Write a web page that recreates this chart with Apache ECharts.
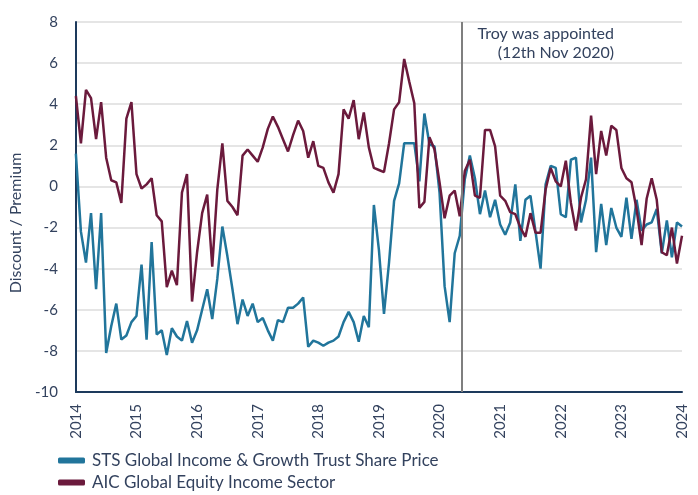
<!DOCTYPE html>
<html>
<head>
<meta charset="utf-8">
<script src="https://cdn.jsdelivr.net/npm/echarts@6.0.0/dist/echarts.min.js"></script>
<style>
  html, body { margin: 0; padding: 0; background: #fff; }
  #chart { width: 698px; height: 495px; }
</style>
</head>
<body>
<div id="chart"></div>
<script>
// monthly readings, Jan 2014 .. Jan 2024
const stsPrice = [
  1.6, -2.2, -3.7, -1.3, -5.0, -1.3, -8.1, -6.8, -5.7, -7.45,
  -7.25, -6.6, -6.3, -3.8, -7.45, -2.7, -7.2, -7.0, -8.2, -6.9,
  -7.3, -7.5, -6.55, -7.6, -7.0, -6.0, -5.0, -6.45, -4.5, -1.95,
  -3.4, -5.0, -6.7, -5.5, -6.3, -5.7, -6.6, -6.4, -7.0, -7.5,
  -6.5, -6.6, -5.9, -5.9, -5.7, -5.4, -7.8, -7.5, -7.6, -7.75,
  -7.6, -7.5, -7.3, -6.6, -6.1, -6.6, -7.55, -6.3, -6.85, -0.9,
  -3.1, -6.2, -3.7, -0.7, 0.15, 2.1, 2.1, 2.1, 0.25, 3.55,
  2.05, 1.95, -0.3, -4.85, -6.6, -3.25, -2.4, 0.35, 1.5, 0.4,
  -1.35, -0.2, -1.5, -0.65, -1.85, -2.35, -1.75, 0.1, -2.65, -0.65,
  -0.45, -2.2, -4.0, 0.1, 1.0, 0.9, -1.35, -1.5, 1.3, 1.4,
  -1.75, -0.65, 1.4, -3.2, -0.85, -2.85, -1.05, -2.0, -2.45, -0.55,
  -2.55, -0.65, -2.15, -1.85, -1.75, -1.1, -3.25, -1.65, -3.45, -1.75,
  -1.95
];
const aicSector = [
  4.4, 2.1, 4.7, 4.3, 2.3, 4.1, 1.4, 0.3, 0.2, -0.8,
  3.3, 4.1, 0.6, -0.1, 0.1, 0.4, -1.4, -1.7, -4.9, -4.1,
  -4.8, -0.3, 0.6, -5.6, -3.2, -1.3, -0.4, -3.9, -0.15, 2.1,
  -0.7, -1.0, -1.4, 1.5, 1.8, 1.5, 1.2, 1.9, 2.8, 3.4,
  2.9, 2.3, 1.7, 2.5, 3.2, 2.7, 1.4, 2.2, 1.0, 0.9,
  0.2, -0.3, 0.6, 3.75, 3.3, 4.2, 2.3, 3.6, 1.9, 0.9,
  0.8, 0.7, 2.1, 3.75, 4.1, 6.2, 5.1, 4.05, -1.05, -0.75,
  2.4, 1.8, 0.2, -1.55, -0.45, -0.2, -1.45, 0.75, 1.3, -0.45,
  -0.55, 2.75, 2.75, 1.95, -0.45, -0.7, -1.25, -1.35, -2.0, -2.45,
  -1.3, -2.25, -2.25, -0.15, 0.9, 0.25, 0.0, 1.25, -0.8, -2.15,
  -0.55, 0.35, 3.45, 0.6, 2.7, 1.5, 2.95, 2.75, 0.9, 0.4,
  0.2, -1.1, -2.85, -0.6, 0.4, -0.65, -3.2, -3.35, -2.0, -3.75,
  -2.4
];
const seriesNames = ["STS Global Income & Growth Trust Share Price", "AIC Global Equity Income Sector"];
const firstYear = 2014;
const lastYear = 2024;
const appointedAt = 2020.36; // where the marker line sits on the time axis

const textColor = "#33425e";
const axisColor = "#1d3a5c";

// x position of every monthly reading, in years
const months = stsPrice.map((_, i) => firstYear + i / 12);

let chart = echarts.init(document.getElementById("chart"));
let option = {
  animation: false,
  textStyle: { fontFamily: "Lato" },
  grid: { left: 70, right: 16, top: 22, bottom: 103 },
  legend: {
    orient: "vertical",
    left: 58,
    top: 452,
    padding: 0,
    itemWidth: 27,
    itemHeight: 6,
    itemGap: 5,
    icon: "roundRect",
    textStyle: { color: textColor, fontSize: 17, fontFamily: "Lato", padding: [0, 0, 0, 2] },
    data: seriesNames,
  },
  xAxis: {
    type: "value",
    min: firstYear,
    max: lastYear,
    interval: 1,
    axisLine: { show: true, onZero: false, lineStyle: { color: axisColor, width: 2 } },
    axisTick: { show: false },
    splitLine: { show: false },
    axisLabel: {
      rotate: 90,
      margin: 12,
      color: textColor,
      fontSize: 15,
      fontFamily: "Lato",
      formatter: (v) => String(v),
    },
  },
  yAxis: {
    type: "value",
    min: -10,
    max: 8,
    interval: 2,
    name: "Discount / Premium",
    nameLocation: "middle",
    nameGap: 44,
    nameTextStyle: { color: textColor, fontSize: 16, fontFamily: "Lato", padding: [0, 32, 0, 0] },
    axisLine: { show: true, lineStyle: { color: axisColor, width: 2 } },
    axisTick: { show: false },
    splitLine: { lineStyle: { color: "#dcdcdc", width: 1.5 } },
    axisLabel: { color: textColor, fontSize: 15, margin: 18, fontFamily: "Lato" },
  },
  graphic: [
    {
      type: "text",
      right: 84,
      top: 26,
      style: { text: "Troy was appointed", fill: textColor, font: "16px Lato" },
    },
    {
      type: "text",
      right: 84,
      top: 45,
      style: { text: "(12th Nov 2020)", fill: textColor, font: "16px Lato" },
    },
  ],
  series: [
    {
      name: seriesNames[0],
      type: "line",
      showSymbol: false,
      color: "#21759b",
      lineStyle: { width: 2.5 },
      data: months.map((m, i) => [m, stsPrice[i]]),
      markLine: {
        silent: true,
        symbol: "none",
        label: { show: false },
        lineStyle: { color: "#7f7f7f", width: 2, type: "solid" },
        data: [{ xAxis: appointedAt }],
      },
    },
    {
      name: seriesNames[1],
      type: "line",
      showSymbol: false,
      color: "#6b1a3c",
      lineStyle: { width: 2.5 },
      data: months.map((m, i) => [m, aicSector[i]]),
    },
  ],
};
chart.setOption(option);
</script>
</body>
</html>
